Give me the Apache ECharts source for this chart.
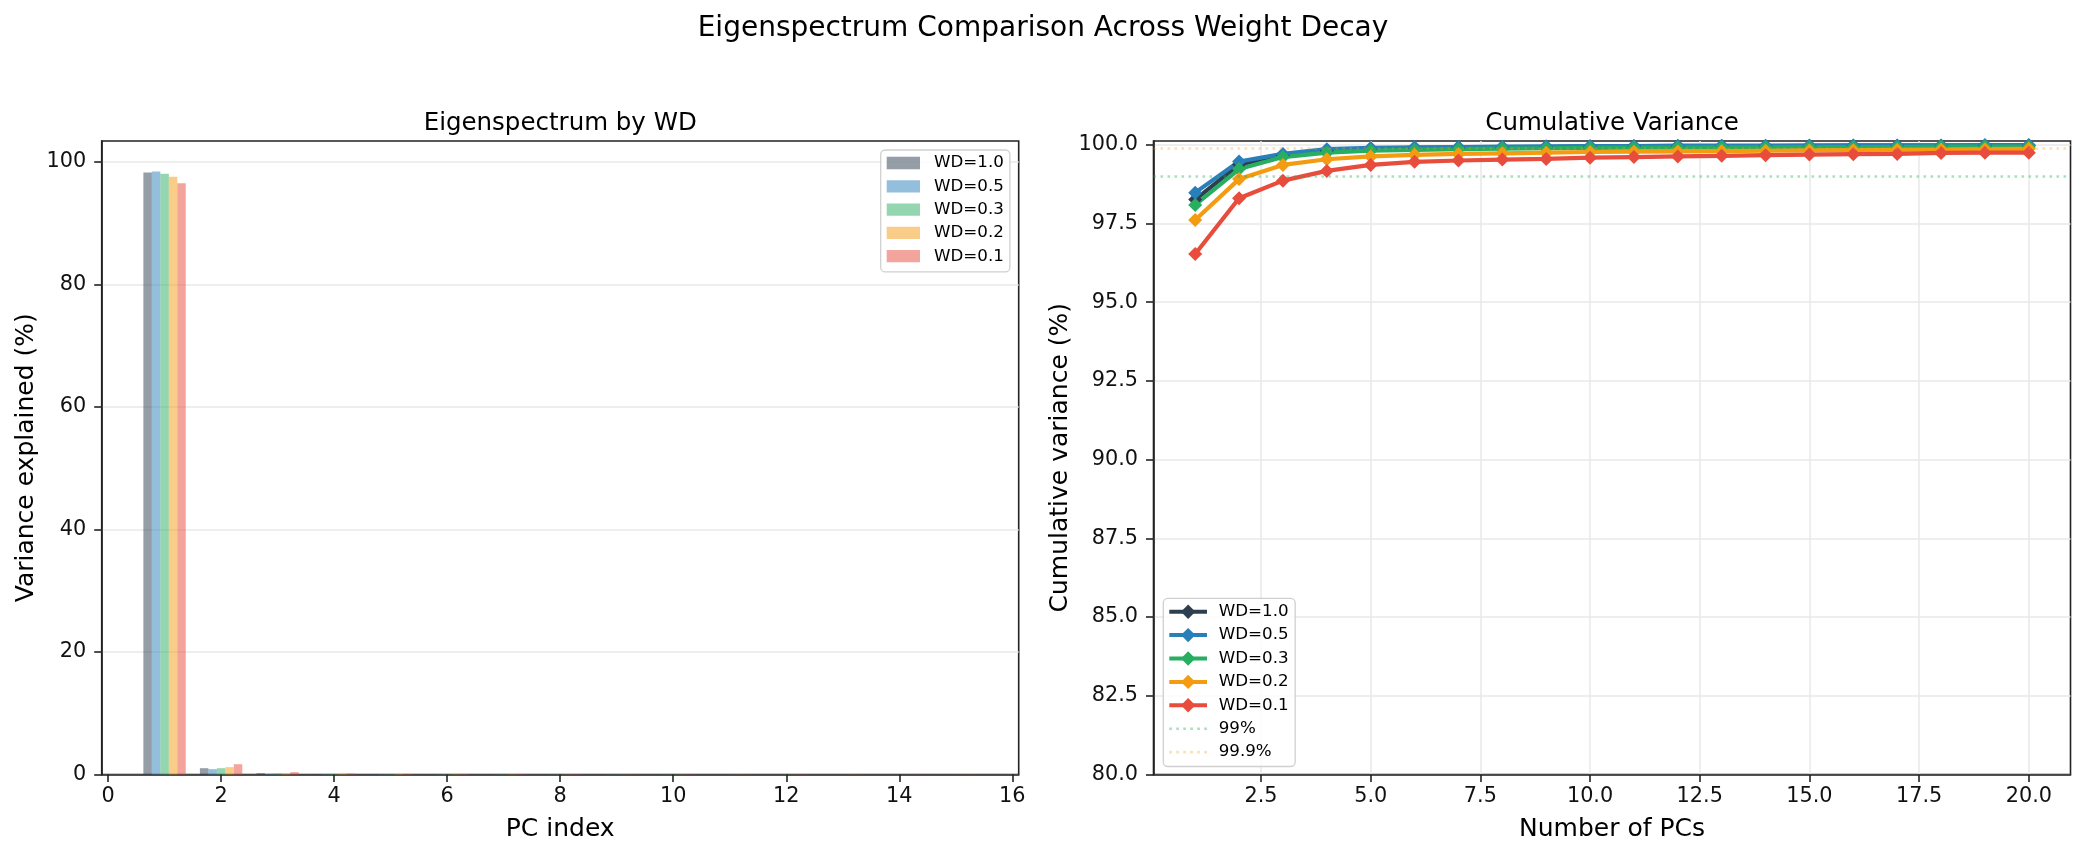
<!DOCTYPE html>
<html>
<head>
<meta charset="utf-8">
<script src="https://cdn.jsdelivr.net/npm/echarts@6/dist/echarts.min.js"></script>
<style>html,body{margin:0;padding:0;background:#fff}#chart{width:2086px;height:857px}</style>
</head>
<body>
<div id="chart"></div>
<script>
// ---------------- data ----------------
const wdLabels = ['WD=1.0', 'WD=0.5', 'WD=0.3', 'WD=0.2', 'WD=0.1'];
const pcIndex = [1, 2, 3, 4, 5, 6, 7, 8, 9, 10, 11, 12, 13, 14, 15];
const barWD10 = [98.26, 1.03, 0.22, 0.08, 0.05, 0.04, 0.03, 0.03, 0.02, 0.02, 0.02, 0.01, 0.01, 0.01, 0.01];
const barWD05 = [98.42, 0.87, 0.10, 0.06, 0.05, 0.04, 0.03, 0.02, 0.02, 0.02, 0.01, 0.01, 0.01, 0.01, 0.01];
const barWD03 = [98.05, 1.03, 0.16, 0.09, 0.06, 0.05, 0.04, 0.03, 0.03, 0.02, 0.02, 0.02, 0.01, 0.01, 0.01];
const barWD02 = [97.56, 1.20, 0.16, 0.10, 0.08, 0.06, 0.05, 0.04, 0.03, 0.03, 0.02, 0.02, 0.02, 0.01, 0.01];
const barWD01 = [96.50, 1.68, 0.38, 0.16, 0.09, 0.08, 0.06, 0.05, 0.04, 0.03, 0.03, 0.03, 0.02, 0.02, 0.02];

const numPCs = [1, 2, 3, 4, 5, 6, 7, 8, 9, 10, 11, 12, 13, 14, 15, 16, 17, 18, 19, 20];
const cumWD10 = [98.26, 99.37, 99.66, 99.81, 99.87, 99.90, 99.91, 99.92, 99.93, 99.94, 99.95, 99.95, 99.96, 99.96, 99.96, 99.97, 99.97, 99.97, 99.97, 99.98];
const cumWD05 = [98.48, 99.47, 99.71, 99.86, 99.90, 99.92, 99.93, 99.94, 99.95, 99.96, 99.96, 99.97, 99.97, 99.97, 99.98, 99.98, 99.98, 99.98, 99.99, 99.99];
const cumWD03 = [98.09, 99.23, 99.61, 99.75, 99.81, 99.84, 99.86, 99.88, 99.89, 99.90, 99.91, 99.91, 99.92, 99.92, 99.93, 99.93, 99.93, 99.94, 99.94, 99.94];
const cumWD02 = [97.61, 98.91, 99.36, 99.54, 99.63, 99.68, 99.71, 99.73, 99.75, 99.77, 99.78, 99.79, 99.80, 99.81, 99.82, 99.83, 99.84, 99.85, 99.86, 99.87];
const cumWD01 = [96.53, 98.30, 98.86, 99.17, 99.36, 99.46, 99.50, 99.53, 99.55, 99.59, 99.61, 99.63, 99.65, 99.67, 99.69, 99.70, 99.71, 99.74, 99.75, 99.75];

const thresholdValues = [99, 99.9];
const thresholdLabels = ['99%', '99.9%'];

const leftXTicks = [0, 2, 4, 6, 8, 10, 12, 14, 16];
const leftYTicks = [0, 20, 40, 60, 80, 100];
const rightXTicks = [2.5, 5, 7.5, 10, 12.5, 15, 17.5, 20];
const rightYTicks = [80, 82.5, 85, 87.5, 90, 92.5, 95, 97.5, 100];

// ---------------- styling / layout ----------------
const FONT = 'DejaVu Sans';
const colors = ['#2c3e50', '#2980b9', '#27ae60', '#f39c12', '#e74c3c'];
const refColors = ['rgba(39,174,96,0.4)', 'rgba(243,156,18,0.32)'];
const barSeries = [barWD10, barWD05, barWD03, barWD02, barWD01];
const cumSeries = [cumWD10, cumWD05, cumWD03, cumWD02, cumWD01];

const G0 = {left: 101.7, top: 141, width: 917, height: 633.5};
const G1 = {left: 1153.5, top: 141, width: 917, height: 633.5};
const leftXRange = [-0.1125, 16.1125];
const leftYRange = [0, 103.4];
const rightXRange = [0.05, 20.95];
const rightYRange = [80, 100.12];
const barFrac = 0.15;
const barWidthPx = barFrac * G0.width / (leftXRange[1] - leftXRange[0]);

const TICK_FS = 20.8, LABEL_FS = 25, TITLE_FS = 24.5, SUPTITLE_FS = 28, LEGEND_FS = 16.7;

function rgba(hex, a) {
  const n = parseInt(hex.slice(1), 16);
  return `rgba(${(n >> 16) & 255},${(n >> 8) & 255},${n & 255},${a})`;
}

const axisColor = '#222';
function makeAxis(opts) {
  return Object.assign({
    type: 'value',
    axisLine: {show: true, onZero: false, lineStyle: {color: axisColor, width: 1.6}},
    axisTick: {show: true, length: 7.5, inside: false, customValues: opts.ticks, lineStyle: {color: axisColor, width: 1.6}},
    axisLabel: {customValues: opts.ticks, color: '#111', fontSize: TICK_FS, fontFamily: FONT, margin: opts.margin,
      formatter: opts.fmt},
    splitLine: {show: opts.split, customValues: opts.ticks, lineStyle: {color: '#e9e9e9', width: 1.5}},
    nameLocation: 'middle',
    nameTextStyle: {fontSize: LABEL_FS, color: '#000', fontFamily: FONT},
  }, opts.extra);
}

const fmt1 = v => Number(v).toFixed(1);
const fmt0 = v => String(Math.round(v));

const series = [];
wdLabels.forEach((name, k) => {
  series.push({
    name: 'bar|' + name,
    type: 'bar',
    xAxisIndex: 0, yAxisIndex: 0,
    data: pcIndex.map((pc, i) => [pc + (k - 2) * barFrac, barSeries[k][i]]),
    barWidth: barWidthPx,
    barGap: '-100%',
    itemStyle: {color: rgba(colors[k], 0.5)},
    silent: true
  });
});
wdLabels.forEach((name, k) => {
  series.push({
    name: 'line|' + name,
    type: 'line',
    xAxisIndex: 1, yAxisIndex: 1,
    data: numPCs.map((pc, i) => [pc, cumSeries[k][i]]),
    symbol: 'diamond',
    symbolSize: 14,
    showAllSymbol: true,
    lineStyle: {color: colors[k], width: 4.2},
    itemStyle: {color: colors[k]},
    silent: true
  });
});
thresholdValues.forEach((t, j) => {
  series.push({
    name: 'ref|' + thresholdLabels[j],
    type: 'line',
    xAxisIndex: 1, yAxisIndex: 1,
    data: [],
    symbol: 'none',
    lineStyle: {color: refColors[j], width: 2.6, type: [2.6, 4.4]},
    itemStyle: {color: refColors[j]},
    markLine: {
      silent: true,
      symbol: ['none', 'none'],
      label: {show: false},
      lineStyle: {color: refColors[j], width: 2.6, type: [2.6, 4.4]},
      emphasis: {disabled: true},
      data: [{yAxis: t}]
    }
  });
});

const legendBox = {
  orient: 'vertical',
  borderColor: '#d0d0d0', borderWidth: 1.3, borderRadius: 4.5,
  backgroundColor: 'rgba(255,255,255,0.85)',
  selectedMode: false,
  formatter: n => n.split('|')[1]
};
const legendText = pad => ({fontSize: LEGEND_FS, color: '#000', fontFamily: FONT, lineHeight: 18, padding: [0, 0, 0, pad]});

const titleStyle = fs => ({fontSize: fs, fontWeight: 'normal', color: '#000', fontFamily: FONT});

const option = {
  animation: false,
  textStyle: {fontFamily: FONT},
  title: [
    {text: 'Eigenspectrum Comparison Across Weight Decay', left: 1043, top: 15, textAlign: 'center', padding: 0,
      textStyle: titleStyle(SUPTITLE_FS)},
    {text: 'Eigenspectrum by WD', left: G0.left + G0.width / 2, top: 111, textAlign: 'center', padding: 0,
      textStyle: titleStyle(TITLE_FS)},
    {text: 'Cumulative Variance', left: G1.left + G1.width / 2, top: 111, textAlign: 'center', padding: 0,
      textStyle: titleStyle(TITLE_FS)}
  ],
  grid: [
    Object.assign({show: true, borderColor: axisColor, borderWidth: 1.6, backgroundColor: 'transparent', containLabel: false}, G0),
    Object.assign({show: true, borderColor: axisColor, borderWidth: 1.6, backgroundColor: 'transparent', containLabel: false}, G1)
  ],
  xAxis: [
    makeAxis({ticks: leftXTicks, margin: 12, split: false, fmt: fmt0,
      extra: {gridIndex: 0, min: leftXRange[0], max: leftXRange[1], name: 'PC index', nameGap: 42}}),
    makeAxis({ticks: rightXTicks, margin: 12, split: true, fmt: fmt1,
      extra: {gridIndex: 1, min: rightXRange[0], max: rightXRange[1], name: 'Number of PCs', nameGap: 42}})
  ],
  yAxis: [
    makeAxis({ticks: leftYTicks, margin: 15.5, split: true, fmt: fmt0,
      extra: {gridIndex: 0, min: leftYRange[0], max: leftYRange[1], name: 'Variance explained (%)', nameGap: 62.5}}),
    makeAxis({ticks: rightYTicks, margin: 15.5, split: true, fmt: fmt1,
      extra: {gridIndex: 1, min: rightYRange[0], max: rightYRange[1], name: 'Cumulative variance (%)', nameGap: 80.5}})
  ],
  legend: [
    Object.assign({}, legendBox, {
      left: 880.7, top: 150,
      padding: [4, 6, 6.7, 6],
      itemWidth: 33.3, itemHeight: 12.3, itemGap: 5.3,
      icon: 'rect',
      textStyle: legendText(9),
      data: wdLabels.map(n => 'bar|' + n)
    }),
    Object.assign({}, legendBox, {
      left: 1163.3, top: 598.3,
      padding: [4.4, 6.6, 5.4, 4],
      itemWidth: 37.7, itemHeight: 18, itemGap: 5.4,
      lineStyle: {width: 4},
      textStyle: legendText(6.7),
      data: wdLabels.map(n => 'line|' + n).concat(
        thresholdLabels.map(n => ({name: 'ref|' + n, itemStyle: {opacity: 0}, lineStyle: {width: 2.6}})))
    })
  ],
  series: series
};

const chart = echarts.init(document.getElementById('chart'), null, {renderer: 'canvas'});
chart.setOption(option);
</script>
</body>
</html>
